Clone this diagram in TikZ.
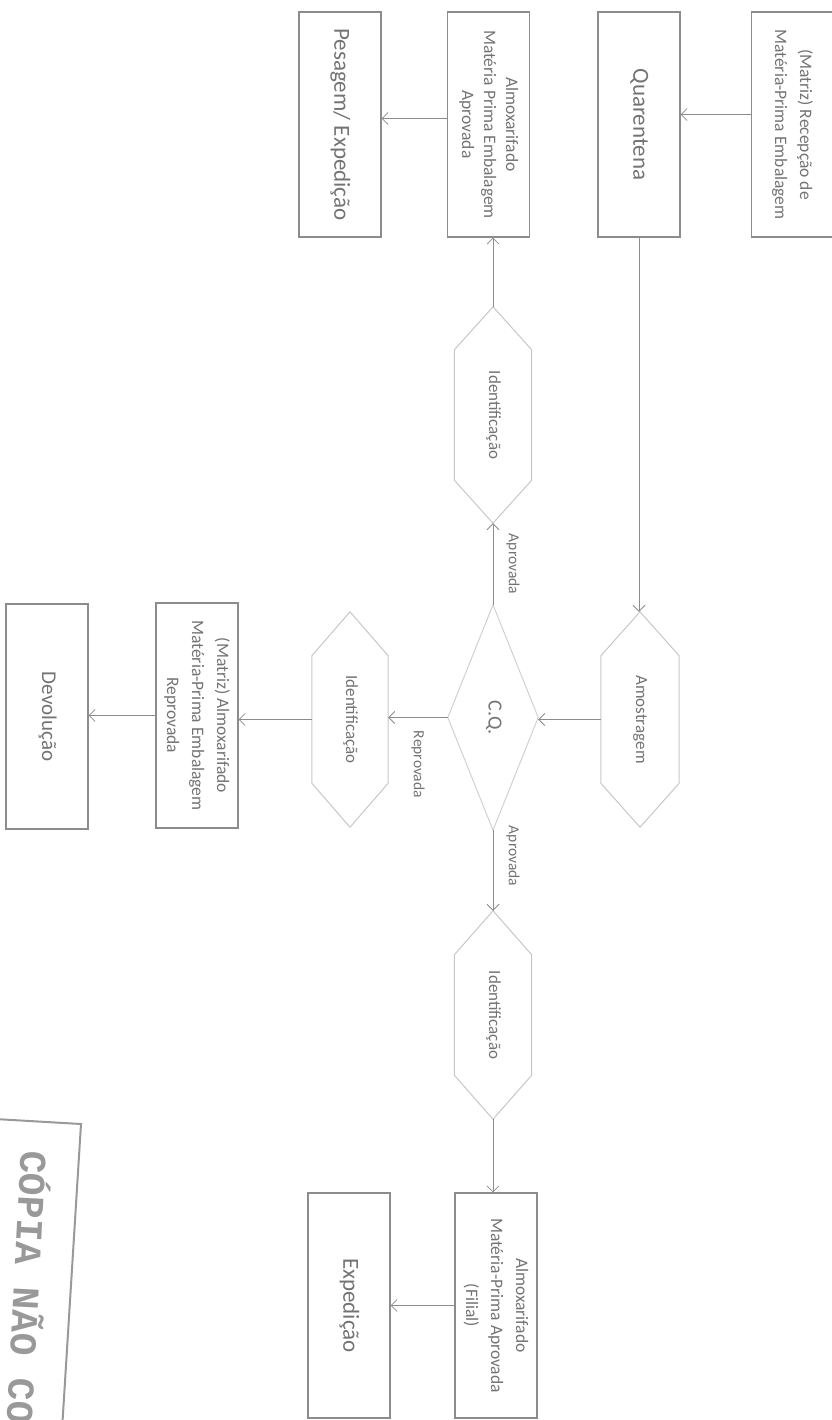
\documentclass[tikz,border=0pt]{standalone}
\usepackage{fontspec}
\setmainfont{Carlito}
\newfontfamily\stampfont{Liberation Mono}
\usetikzlibrary{arrows.meta,calc}

\definecolor{boxline}{gray}{0.55}
\definecolor{hexline}{gray}{0.78}
\definecolor{diaml}{gray}{0.82}
\definecolor{txt}{gray}{0.45}
\definecolor{stampc}{gray}{0.6}

% text set top-to-bottom, one or more centred lines
\newcommand\vtext[1]{\rotatebox{-90}{\begin{tabular}{@{}c@{}}#1\end{tabular}}}
% elongated hexagon around an invisible node: #1 node name, #2 slant height
\newcommand\drawhex[2]{%
  \draw[hexline, line width=1pt] (#1.north) -- ($(#1.north east)+(0,#2)$)
    -- ($(#1.south east)+(0,-#2)$) -- (#1.south)
    -- ($(#1.south west)+(0,-#2)$) -- ($(#1.north west)+(0,#2)$) -- cycle;}

\tikzset{
  box/.style={draw=boxline, line width=1.1pt, minimum width=82pt,
    minimum height=225pt, inner sep=0pt, text=txt,
    font=\fontsize{17.5}{25}\selectfont},
  bigbox/.style={box, font=\fontsize{23}{28}\selectfont},
  hexbox/.style={minimum width=77pt, minimum height=215pt, inner sep=0pt,
    text=txt, font=\fontsize{17}{20}\selectfont},
  flow/.style={draw=boxline, line width=0.8pt,
    -{Straight Barb[length=6pt,width=12pt]}},
  lbl/.style={text=txt, font=\fontsize{15.5}{18}\selectfont, inner sep=1pt}
}

\begin{document}
\begin{tikzpicture}[x=1pt,y=-1pt]
\useasboundingbox (0,0) rectangle (831,1420);

% top row
\node[box] (recv) at (792.5,124.5) {\vtext{(Matriz) Recepção de\\Matéria-Prima Embalagem}};
\node[bigbox] (quar) at (639,124.5) {\vtext{Quarentena}};
\node[box, font=\fontsize{17.5}{22}\selectfont] (almA) at (488.5,124.5)
  {\vtext{Almoxarifado\\Matéria Prima Embalagem\\Aprovada}};
\node[bigbox] (pes) at (340,124.5) {\vtext{Pesagem/ Expedição}};

% approval branch towards the top
\node[hexbox, minimum height=216pt] (idA) at (493,415) {\vtext{Identificação}};

% sampling and quality control
\node[hexbox, minimum width=78pt] (amo) at (640,719.5) {\vtext{Amostragem}};
\node[minimum width=90pt, minimum height=225pt, inner sep=0pt, text=txt,
  font=\fontsize{20}{22}\selectfont] (cq) at (493,717.5) {\vtext{C.Q.}};

% rejected branch
\node[hexbox, minimum width=76pt] (idR) at (350,719.5) {\vtext{Identificação}};
\node[box] (almR) at (197,715.5) {\vtext{(Matriz) Almoxarifado\\Matéria-Prima Embalagem\\Reprovada}};
\node[bigbox, font=\fontsize{21}{25}\selectfont] (dev) at (47,716.5) {\vtext{Devolução}};

% approved branch towards the bottom
\node[hexbox, minimum height=208pt] (idB) at (493,1015) {\vtext{Identificação}};
\node[box] (almF) at (496,1305.5) {\vtext{Almoxarifado\\Matéria-Prima Aprovada\\(Filial)}};
\node[bigbox] (exp) at (349,1305.5) {\vtext{Expedição}};

% outlines of the decision and process shapes
\draw[diaml, line width=1pt] (cq.north) -- (cq.east) -- (cq.south) -- (cq.west) -- cycle;
\drawhex{idA}{43}
\drawhex{amo}{44}
\drawhex{idR}{44}
\drawhex{idB}{44}

% connectors
\draw[flow] ([yshift=10pt]recv.west) -- ([yshift=10pt]quar.east);
\draw[flow] (quar.south) -- (quar.south |- amo.north);
\draw[flow] (amo.west) -- (amo.west -| cq.east);
\draw[flow] (cq.north) -- node[lbl, anchor=west, xshift=12pt] {\rotatebox{-90}{Aprovada}} (idA.south);
\draw[flow] (idA.north) -- (idA.north |- almA.south);
\draw[flow] ([yshift=6pt]almA.west) -- ([yshift=6pt]pes.east);
\draw[flow] (cq.west) -- node[lbl, anchor=north, yshift=-12pt] {\rotatebox{-90}{Reprovada}} (cq.west -| idR.east);
\draw[flow] (idR.west) -- (idR.west -| almR.east);
\draw[flow] (almR.west) -- (almR.west -| dev.east);
\draw[flow] (cq.south) -- node[lbl, pos=0.32, anchor=west, xshift=12pt] {\rotatebox{-90}{Aprovada}} (idB.north);
\draw[flow] (idB.south) -- (idB.south |- almF.north);
\draw[flow] (almF.west) -- (almF.west -| exp.east);

% stamp in the lower left corner
\begin{scope}
  \clip (0,0) rectangle (831,1420);
  \draw[stampc, line width=2pt] (-5,1119) -- (81,1124) -- (62,1430);
  \node[text=stampc, font=\stampfont\bfseries\fontsize{38}{40}\selectfont,
    rotate=-93, anchor=base west, inner sep=0pt] (stamp) at (21,1150) {CÓPIA NÃO CO};
\end{scope}
\end{tikzpicture}
\end{document}
